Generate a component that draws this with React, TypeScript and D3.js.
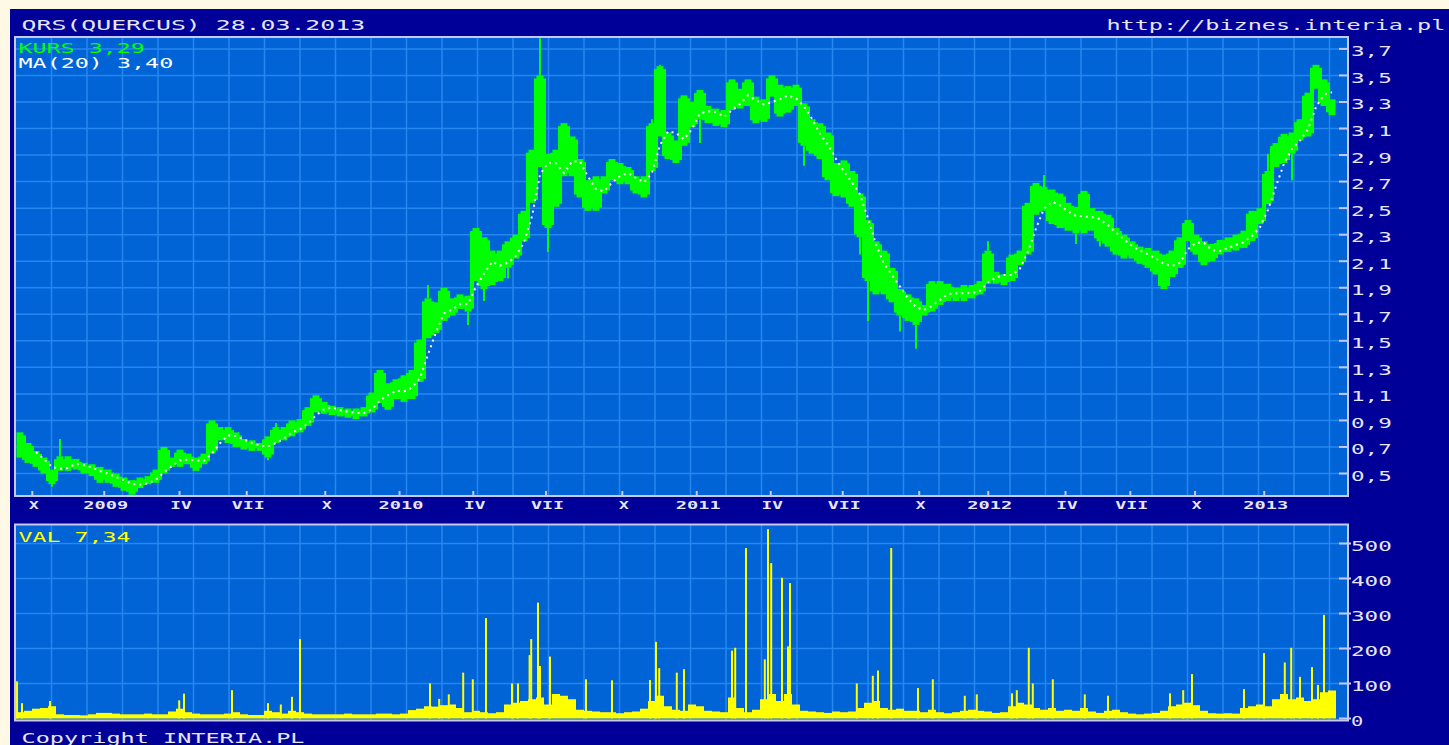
import * as d3 from 'd3';

// QRS (QUERCUS) quote chart, interia.pl style
// one bar = about a week of sessions

const kursMax = [
  0.81, 0.73, 0.67, 0.62, 0.53, 0.63, 0.63, 0.61, 0.58, 0.57,
  0.55, 0.53, 0.50, 0.47, 0.45, 0.47, 0.48, 0.53, 0.70, 0.62,
  0.68, 0.65, 0.62, 0.65, 0.90, 0.85, 0.85, 0.81, 0.76, 0.75,
  0.73, 0.78, 0.85, 0.85, 0.90, 0.91, 1.00, 1.09, 1.04, 1.01,
  1.00, 0.99, 0.99, 1.00, 1.11, 1.28, 1.18, 1.21, 1.24, 1.28,
  1.51, 1.82, 1.79, 1.90, 1.82, 1.85, 1.84, 2.35, 2.28, 2.18,
  2.18, 2.25, 2.30, 2.48, 2.94, 3.50, 2.91, 2.94, 3.14, 3.04,
  2.87, 2.71, 2.74, 2.74, 2.87, 2.84, 2.81, 2.74, 2.74, 3.14,
  3.57, 3.07, 3.01, 3.35, 3.30, 3.39, 3.27, 3.25, 3.24, 3.47,
  3.40, 3.47, 3.34, 3.32, 3.50, 3.43, 3.42, 3.43, 3.29, 3.17,
  3.14, 3.07, 2.84, 2.86, 2.78, 2.61, 2.41, 2.25, 2.18, 2.05,
  1.89, 1.85, 1.82, 1.77, 1.95, 1.95, 1.93, 1.90, 1.92, 1.92,
  1.95, 2.18, 2.02, 2.00, 2.15, 2.18, 2.54, 2.69, 2.66, 2.64,
  2.61, 2.54, 2.51, 2.63, 2.50, 2.48, 2.45, 2.35, 2.30, 2.25,
  2.21, 2.20, 2.18, 2.15, 2.18, 2.28, 2.41, 2.30, 2.25, 2.23,
  2.26, 2.28, 2.30, 2.33, 2.48, 2.50, 2.78, 2.99, 3.06, 3.07,
  3.17, 3.37, 3.58, 3.47, 3.32,
];

const kursMin = [
  0.62, 0.58, 0.55, 0.50, 0.42, 0.52, 0.52, 0.53, 0.50, 0.48,
  0.43, 0.43, 0.40, 0.37, 0.34, 0.39, 0.42, 0.43, 0.50, 0.55,
  0.55, 0.57, 0.52, 0.57, 0.65, 0.75, 0.73, 0.70, 0.68, 0.67,
  0.67, 0.62, 0.73, 0.75, 0.78, 0.81, 0.86, 0.96, 0.95, 0.94,
  0.93, 0.92, 0.91, 0.93, 0.96, 1.03, 0.98, 1.06, 1.04, 1.06,
  1.19, 1.52, 1.56, 1.65, 1.69, 1.74, 1.72, 1.95, 1.89, 1.92,
  1.95, 2.05, 2.12, 2.25, 2.54, 2.81, 2.35, 2.51, 2.74, 2.74,
  2.58, 2.48, 2.48, 2.61, 2.71, 2.68, 2.68, 2.61, 2.58, 2.78,
  3.04, 2.87, 2.84, 2.97, 3.11, 3.17, 3.14, 3.12, 3.11, 3.24,
  3.25, 3.27, 3.14, 3.15, 3.34, 3.19, 3.22, 3.27, 2.97, 2.91,
  2.87, 2.71, 2.59, 2.58, 2.51, 2.28, 1.95, 1.85, 1.85, 1.79,
  1.69, 1.65, 1.62, 1.69, 1.72, 1.77, 1.80, 1.80, 1.80, 1.82,
  1.85, 1.93, 1.93, 1.92, 1.95, 2.07, 2.15, 2.45, 2.48, 2.38,
  2.35, 2.33, 2.31, 2.31, 2.33, 2.25, 2.21, 2.15, 2.12, 2.12,
  2.08, 2.05, 2.00, 1.89, 1.98, 2.05, 2.25, 2.15, 2.07, 2.10,
  2.15, 2.17, 2.18, 2.20, 2.25, 2.38, 2.53, 2.81, 2.84, 2.91,
  3.01, 3.04, 3.40, 3.27, 3.20,
];

// [bar, price] for shadows sticking out of the band
const kursWicks = [
  [4, 0.40], [5, 0.76], [31, 0.60], [32, 0.88], [51, 1.92], [56, 1.62],
  [58, 1.80], [61, 1.97], [65, 3.78], [66, 2.17], [79, 3.17], [80, 3.58],
  [85, 2.99], [98, 2.82], [105, 2.15], [106, 1.65], [110, 1.57], [112, 1.44],
  [121, 2.25], [128, 2.75], [132, 2.23], [135, 2.21], [156, 2.91], [159, 2.71],
];

// turnover level per bar (thousand PLN)
const volBase = [
  18, 22, 28, 30, 35, 12, 10, 10, 9, 12, 16, 16, 14, 12, 12, 12, 14, 12, 12, 20,
  28, 18, 14, 12, 12, 12, 14, 18, 12, 10, 10, 22, 18, 14, 22, 18, 14, 12, 12, 12,
  12, 14, 12, 12, 12, 14, 14, 12, 14, 24, 28, 35, 34, 38, 40, 30,
  18, 22, 18, 15, 18, 40, 45, 50, 55, 60, 40, 70, 65, 55, 25, 22, 20, 18, 18, 15,
  18, 20, 28, 50, 65, 35, 25, 22, 40, 35, 22, 20, 18, 60, 30, 18, 25, 55, 70, 50,
  70, 40, 22, 20, 18, 16, 20, 18, 20, 30, 45, 50, 30, 25, 28, 22,
  22, 18, 25, 18, 15, 18, 22, 25, 22, 20, 16, 18, 35, 45, 40, 30, 25, 30, 22, 25,
  22, 30, 20, 16, 22, 25, 18, 14, 12, 14, 16, 22, 35, 40, 45, 38, 22, 15, 14, 15,
  14, 30, 35, 40, 35, 55, 70, 55, 60, 50, 55, 75, 80,
];

// [bar position, turnover] single-session peaks
const volSpikes = [
  [0.13, 106], [0.75, 44], [4.25, 50], [20.4, 52], [21.0, 71], [27.0, 81],
  [31.5, 44], [33.1, 40], [34.5, 62], [35.5, 227], [51.75, 100], [52.9, 56],
  [54.1, 69], [55.9, 131], [57.1, 112], [58.75, 287], [62.0, 100], [62.75, 100],
  [64.2, 181], [64.4, 227], [65.25, 331], [65.5, 150], [66.75, 177], [71.25, 112],
  [74.5, 109], [79.25, 110], [80.0, 219], [80.4, 144], [82.6, 131], [83.5, 141],
  [89.5, 194], [89.9, 202], [91.25, 487], [93.6, 169], [94.0, 541], [94.4, 444],
  [95.75, 402], [96.5, 206], [96.75, 387], [105.1, 100], [107.1, 122], [107.75, 137],
  [109.4, 487], [112.75, 87], [114.6, 112], [118.6, 65], [120.1, 69], [124.5, 72],
  [125.1, 81], [126.6, 202], [127.1, 100], [129.6, 112], [133.6, 69], [136.5, 65],
  [144.25, 72], [145.9, 81], [147.0, 127], [153.5, 84], [156.0, 187], [158.6, 160],
  [159.4, 202], [160.5, 119], [162.0, 147], [162.75, 96], [163.5, 296],
];

const priceTicks = [0.5, 0.7, 0.9, 1.1, 1.3, 1.5, 1.7, 1.9, 2.1, 2.3, 2.5, 2.7, 2.9, 3.1, 3.3, 3.5, 3.7];
const volTicks = [0, 100, 200, 300, 400, 500];

// quarter marks: [bar position, label]
const quarterTicks: [number, string][] = [
  [2.04, 'X'], [11.03, '2009'], [20.44, 'IV'], [28.84, 'VII'], [38.66, 'X'],
  [47.94, '2010'], [57.16, 'IV'], [66.25, 'VII'], [75.79, 'X'], [85.09, '2011'],
  [94.34, 'IV'], [103.34, 'VII'], [112.9, 'X'], [121.53, '2012'], [131.19, 'IV'],
  [139.29, 'VII'], [147.38, 'X'], [156.03, '2013'],
];

const W = 1449;
const H = 745;
const L = 15, R = 1348;
const MAIN = { top: 37, bottom: 496 };
const VOLP = { top: 524.5, bottom: 720.5 };

const NAVY = '#000099';
const PLOT_BG = '#0063d6';
const GRID = '#2787f0';
const FRAME = '#c8c8ee';
const LABEL = '#e6e6f6';
const GREEN = '#00ff00';
const YELLOW = '#ffff00';
const MONO = "'DejaVu Sans Mono', 'Liberation Mono', monospace";

const Txt = ({ x, y, text, fill = LABEL, size = 14, cw = 14.25, anchor = 'start', weight = 'normal' }: any) => (
  <text
    x={x}
    y={y}
    fill={fill}
    fontSize={size}
    fontFamily={MONO}
    fontWeight={weight}
    textAnchor={anchor}
    textLength={text.length * cw - 2}
    lengthAdjust="spacingAndGlyphs"
  >
    {text}
  </text>
);

const comma = (v: number, f: string) => d3.format(f)(v).replace('.', ',');

export default function App() {
  const n = kursMax.length;
  const x = d3.scaleLinear().domain([0, n]).range([16, 16 + 8 * n]);
  const y = d3.scaleLinear().domain([0.5, 3.7]).range([473.5, 48.9]);
  const yv = d3.scaleLinear().domain([0, 500]).range([718.5, 543.5]);
  const bw = x(1) - x(0);

  // moving average of the band middle, ~20 sessions
  const mid = kursMax.map((h, i) => (h + kursMin[i]) / 2);
  const ma = mid.map((_, i) => (i < 2 ? null : d3.mean(mid.slice(i - 2, i + 1)) as number));
  const maLine = d3
    .line<number | null>()
    .defined((d) => d != null)
    .x((_, i) => x(i + 0.5))
    .y((d) => y(d as number))(ma);

  const gridX = d3.range(37).map((k) => 16 + 35.5 * (k + 1));

  return (
    <div style={{ position: 'fixed', left: 0, top: 0 }}>
      <svg width={W} height={H} style={{ display: 'block' }}>
        <defs>
          <clipPath id="mainClip">
            <rect x={L} y={MAIN.top} width={R - L} height={MAIN.bottom - MAIN.top} />
          </clipPath>
          <clipPath id="volClip">
            <rect x={L} y={VOLP.top} width={R - L} height={VOLP.bottom - VOLP.top} />
          </clipPath>
        </defs>
        <rect width={W} height={H} fill="#fff8e4" />
        <rect x={10} y={9} width={W - 10} height={H - 9} fill={NAVY} />

        {/* main panel */}
        <rect x={L} y={MAIN.top} width={R - L} height={MAIN.bottom - MAIN.top} fill={PLOT_BG} />
        {gridX.map((gx) => (
          <line key={'mg' + gx} x1={gx} x2={gx} y1={MAIN.top} y2={MAIN.bottom} stroke={GRID} strokeWidth={1.5} />
        ))}
        {priceTicks.map((t) => (
          <line key={'mh' + t} x1={L} x2={R} y1={y(t)} y2={y(t)} stroke={GRID} strokeWidth={1.5} />
        ))}

        <g clipPath="url(#mainClip)">
          {kursWicks.map(([i, v]) => {
            const end = v > kursMax[i] ? kursMax[i] : kursMin[i];
            return (
              <line key={'w' + i} x1={x(i + 0.5)} x2={x(i + 0.5)} y1={y(v)} y2={y(end)} stroke={GREEN} strokeWidth={2} />
            );
          })}
          {/* session-to-session joins between neighbouring bars */}
          {kursMax.slice(1).map((h, k) => {
            const top = Math.max(h, kursMax[k]);
            const bot = Math.min(kursMin[k + 1], kursMin[k]);
            return (
              <rect key={'j' + k} x={x(k + 1) - 2} y={y(top) + 3} width={4} height={Math.max(0, y(bot) - y(top) - 6)} fill={GREEN} />
            );
          })}
          {kursMax.map((h, i) => (
            <rect
              key={'c' + i}
              x={x(i) + 0.5}
              y={y(h)}
              width={bw - 1}
              height={Math.max(2, y(kursMin[i]) - y(h))}
              fill={GREEN}
            />
          ))}
          <path d={maLine || ''} fill="none" stroke="#ffffff" strokeWidth={2} strokeDasharray="2 4" />
        </g>

        {quarterTicks.map(([p]) => (
          <line key={'xt' + p} x1={x(p)} x2={x(p)} y1={MAIN.bottom - 5} y2={MAIN.bottom} stroke={FRAME} strokeWidth={2} />
        ))}
        {priceTicks.map((t) => (
          <line key={'yt' + t} x1={R - 9} x2={R} y1={y(t)} y2={y(t)} stroke={FRAME} strokeWidth={2} />
        ))}
        <rect x={L} y={MAIN.top} width={R - L} height={MAIN.bottom - MAIN.top} fill="none" stroke={FRAME} strokeWidth={2} />

        {priceTicks.map((t) => (
          <Txt key={'yl' + t} x={1351} y={y(t) + 7.5} text={comma(t, '.1f')} />
        ))}
        {quarterTicks.map(([p, label]) => (
          <Txt key={'xl' + p} x={x(p) + 1.5} y={508.5} text={label} size={11} cw={11.7} anchor="middle" weight="bold" />
        ))}

        {/* volume panel */}
        <rect x={L} y={VOLP.top} width={R - L} height={VOLP.bottom - VOLP.top} fill={PLOT_BG} />
        {gridX.map((gx) => (
          <line key={'vg' + gx} x1={gx} x2={gx} y1={VOLP.top} y2={VOLP.bottom} stroke={GRID} strokeWidth={1.5} />
        ))}
        {volTicks.slice(1).map((t) => (
          <line key={'vh' + t} x1={L} x2={R} y1={yv(t)} y2={yv(t)} stroke={GRID} strokeWidth={1.5} />
        ))}
        <g clipPath="url(#volClip)">
          {volBase.map((v, i) => (
            <rect key={'vb' + i} x={x(i)} y={yv(v)} width={bw} height={yv(0) - yv(v)} fill={YELLOW} />
          ))}
          {volSpikes.map(([p, v]) => (
            <rect key={'vs' + p} x={x(p) - 1} y={yv(v)} width={2} height={yv(0) - yv(v)} fill={YELLOW} />
          ))}
        </g>
        {volTicks.map((t) => (
          <line key={'vt' + t} x1={R - 9} x2={R + 3} y1={yv(t)} y2={yv(t)} stroke={FRAME} strokeWidth={2} />
        ))}
        <rect x={L} y={VOLP.top} width={R - L} height={VOLP.bottom - VOLP.top} fill="none" stroke={FRAME} strokeWidth={2} />
        {volTicks.map((t) => (
          <Txt key={'vl' + t} x={1351} y={yv(t) + 7.5} text={String(t)} />
        ))}

        {/* captions */}
        <Txt x={21.5} y={30} text="QRS(QUERCUS)  28.03.2013" cw={14.4} />
        <Txt x={1106.5} y={30} text="http://biznes.interia.pl" cw={14.2} />
        <Txt x={18.5} y={53} text="KURS 3,29" fill={GREEN} />
        <Txt x={18.5} y={68} text="MA(20) 3,40" fill="#ffffff" />
        <Txt x={18.5} y={541.5} text="VAL 7,34" fill={YELLOW} />
        <Txt x={21.5} y={743} text="Copyright INTERIA.PL" />
      </svg>
    </div>
  );
}
